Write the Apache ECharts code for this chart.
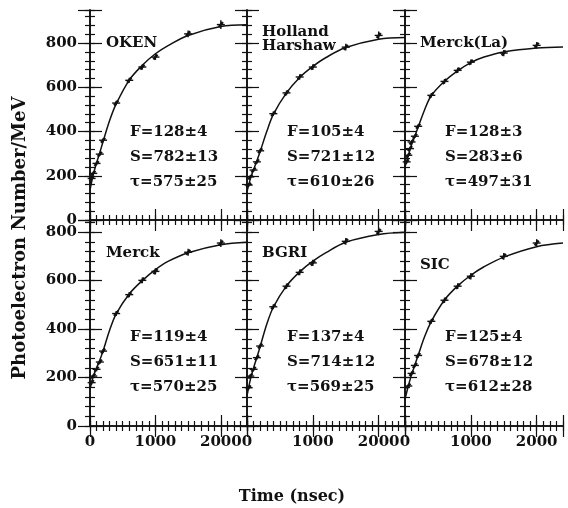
<!DOCTYPE html>
<html><head><meta charset="utf-8">
<script src="https://cdn.jsdelivr.net/npm/echarts@6/dist/echarts.min.js"></script>
<style>html,body{margin:0;padding:0;background:#fff}#c{width:568px;height:508px}</style>
</head><body><div id="c"></div><script>
// ---- data ----
const panelNames = [["OKEN"], ["Holland", "Harshaw"], ["Merck(La)"], ["Merck"], ["BGRI"], ["SIC"]];
const fitF = ["F=128±4", "F=105±4", "F=128±3", "F=119±4", "F=137±4", "F=125±4"];
const fitS = ["S=782±13", "S=721±12", "S=283±6", "S=651±11", "S=714±12", "S=678±12"];
const fitTau = ["τ=575±25", "τ=610±26", "τ=497±31", "τ=570±25", "τ=569±25", "τ=612±28"];

const xTicks = [0, 1000, 2000];
const yTicks = [0, 200, 400, 600, 800];

// measured points (time in nsec, photoelectrons/MeV, error)
const okenT = [25, 50, 100, 150, 200, 400, 600, 800, 1000, 1500, 2000];
const okenV = [188, 211, 256, 298, 361, 529, 632, 692, 737, 842, 884];
const okenE = [8, 8, 8, 8, 9, 10, 11, 12, 13, 15, 20];

const hhT = [25, 50, 100, 150, 200, 400, 600, 800, 1000, 1500, 2000];
const hhV = [158, 195, 226, 263, 313, 481, 575, 647, 692, 782, 835];
const hhE = [8, 8, 8, 8, 9, 10, 11, 12, 13, 15, 18];

const mlaT = [25, 50, 75, 100, 150, 200, 400, 600, 800, 1000, 1500, 2000];
const mlaV = [263, 293, 323, 353, 379, 424, 564, 627, 677, 714, 755, 790];
const mlaE = [8, 8, 8, 8, 8, 9, 10, 11, 12, 12, 14, 15];

const merckT = [25, 50, 100, 150, 200, 400, 600, 800, 1000, 1500, 2000];
const merckV = [179, 206, 234, 264, 309, 464, 542, 601, 638, 717, 755];
const merckE = [8, 8, 8, 8, 9, 10, 11, 12, 13, 14, 16];

const bgriT = [25, 50, 100, 150, 200, 400, 600, 800, 1000, 1500, 2000];
const bgriV = [158, 206, 234, 282, 330, 492, 577, 634, 673, 762, 803];
const bgriE = [8, 8, 8, 8, 9, 10, 11, 12, 13, 14, 16];

const sicT = [50, 100, 150, 200, 400, 600, 800, 1000, 1500, 2000];
const sicV = [165, 217, 250, 291, 432, 519, 577, 618, 700, 755];
const sicE = [8, 8, 8, 9, 10, 11, 12, 13, 14, 16];

// fitted curves
const curveT = [0, 50, 100, 150, 200, 300, 400, 600, 800, 1000, 1200, 1500, 2000, 2400];
const okenC  = [135, 205, 258, 305, 355, 450, 525, 633, 700, 752, 790, 835, 875, 883];
const hhC    = [128, 185, 228, 268, 310, 400, 478, 575, 645, 695, 735, 780, 818, 826];
const mlaC   = [240, 292, 340, 380, 420, 500, 563, 628, 675, 712, 737, 760, 778, 783];
const merckC = [150, 205, 240, 272, 310, 395, 463, 545, 600, 645, 680, 715, 748, 758];
const bgriC  = [124, 190, 240, 283, 328, 420, 490, 578, 636, 680, 715, 758, 790, 799];
const sicC   = [110, 165, 212, 252, 292, 370, 432, 520, 578, 622, 657, 697, 740, 755];

const yMaxTop = 950, yMaxBottom = 850, xMax = 2400;

// ---- build chart ----
const pts = [[okenT, okenV, okenE], [hhT, hhV, hhE], [mlaT, mlaV, mlaE],
             [merckT, merckV, merckE], [bgriT, bgriV, bgriE], [sicT, sicV, sicE]];
const curves = [okenC, hhC, mlaC, merckC, bgriC, sicC];

const FONT = '"DejaVu Serif", serif';
const layout = [
  {left: 90, top: 10, width: 157, height: 210},
  {left: 247, top: 10, width: 158, height: 210},
  {left: 405, top: 10, width: 158, height: 210},
  {left: 90, top: 220, width: 157, height: 206},
  {left: 247, top: 220, width: 158, height: 206},
  {left: 405, top: 220, width: 158, height: 206}
];

const grids = [], xAxes = [], yAxes = [], series = [], graphics = [];
const black = '#111';

layout.forEach((g, i) => {
  grids.push(Object.assign({containLabel: false}, g));
  const bottomRow = i >= 3, leftCol = i % 3 === 0;
  const yMax = bottomRow ? yMaxBottom : yMaxTop;
  const base = (pos, interval, len, showLine, showLabel, isX) => ({
    gridIndex: i, type: 'value', position: pos, min: 0, max: isX ? xMax : yMax,
    interval: interval,
    axisLine: {show: showLine, lineStyle: {color: black, width: 1.6}},
    axisTick: {show: true, inside: true, length: len, lineStyle: {color: black, width: 1.2}},
    axisLabel: {
      show: showLabel, color: black, fontFamily: FONT, fontWeight: 'bold', fontSize: 15,
      margin: isX ? 9 : 13,
      formatter: v => ((isX ? xTicks : yTicks).indexOf(v) >= 0 ? String(v) : '')
    },
    splitLine: {show: false}, minorTick: {show: false}
  });
  const xi = xAxes.length, yi = yAxes.length;
  xAxes.push(base('bottom', 1000, 11, true, bottomRow, true));
  xAxes.push(base('bottom', 100, 5, false, false, true));
  xAxes.push(base('top', 1000, 11, true, false, true));
  xAxes.push(base('top', 100, 5, false, false, true));
  yAxes.push(base('left', 200, 12, true, leftCol, false));
  yAxes.push(base('left', 40, 5, false, false, false));
  yAxes.push(base('right', 200, 12, true, false, false));
  yAxes.push(base('right', 40, 5, false, false, false));

  series.push({
    type: 'line', xAxisIndex: xi, yAxisIndex: yi, showSymbol: false, smooth: 0.35,
    lineStyle: {color: black, width: 1.5}, silent: true, animation: false,
    data: curveT.map((t, k) => [t, curves[i][k]])
  });
  const [T, V, E] = pts[i];
  series.push({
    type: 'custom', xAxisIndex: xi, yAxisIndex: yi, animation: false, silent: true,
    data: T.map((t, k) => [t, V[k], E[k]]),
    renderItem: (params, api) => {
      const t = api.value(0), v = api.value(1), e = api.value(2);
      const p = api.coord([t, v]);
      const hi = api.coord([t, v + e]), lo = api.coord([t, v - e]);
      const st = {stroke: black, lineWidth: 1.4};
      return {type: 'group', children: [
        {type: 'line', shape: {x1: p[0], y1: hi[1], x2: p[0], y2: lo[1]}, style: st},
        {type: 'line', shape: {x1: p[0] - 4, y1: p[1], x2: p[0] + 4, y2: p[1]}, style: st},
        {type: 'line', shape: {x1: p[0] - 2, y1: p[1] + 2.5, x2: p[0] + 2, y2: p[1] - 2.5}, style: {stroke: black, lineWidth: 2.4}}
      ]};
    }
  });

  // panel name
  panelNames[i].forEach((nm, k) => {
    graphics.push({type: 'text', x: g.left + (i % 3 === 0 ? 16 : 15), y: g.top + (panelNames[i].length > 1 ? 22 + k * 14 : (i === 5 ? 45 : 33)),
      style: {text: nm, font: 'bold 15px ' + FONT, fill: black, textVerticalAlign: 'middle'}});
  });
  // fit parameters
  [fitF[i], fitS[i], fitTau[i]].forEach((s, k) => {
    graphics.push({type: 'text', x: g.left + 40, y: g.top + (bottomRow ? 117 : 122) + k * 25,
      style: {text: s, font: 'bold 15px ' + FONT, fill: black, textVerticalAlign: 'middle'}});
  });
});

graphics.push({type: 'text', x: 20, y: 238, rotation: Math.PI / 2,
  style: {text: 'Photoelectron Number/MeV', font: 'bold 18px ' + FONT, fill: black, textAlign: 'center', textVerticalAlign: 'middle'}});
graphics.push({type: 'text', x: 292, y: 497,
  style: {text: 'Time (nsec)', font: 'bold 16px ' + FONT, fill: black, textAlign: 'center', textVerticalAlign: 'middle'}});

const chart = echarts.init(document.getElementById('c'), null, {renderer: 'canvas'});
chart.setOption({
  animation: false, backgroundColor: '#fff',
  grid: grids, xAxis: xAxes, yAxis: yAxes, series: series, graphic: graphics
});
</script></body></html>
